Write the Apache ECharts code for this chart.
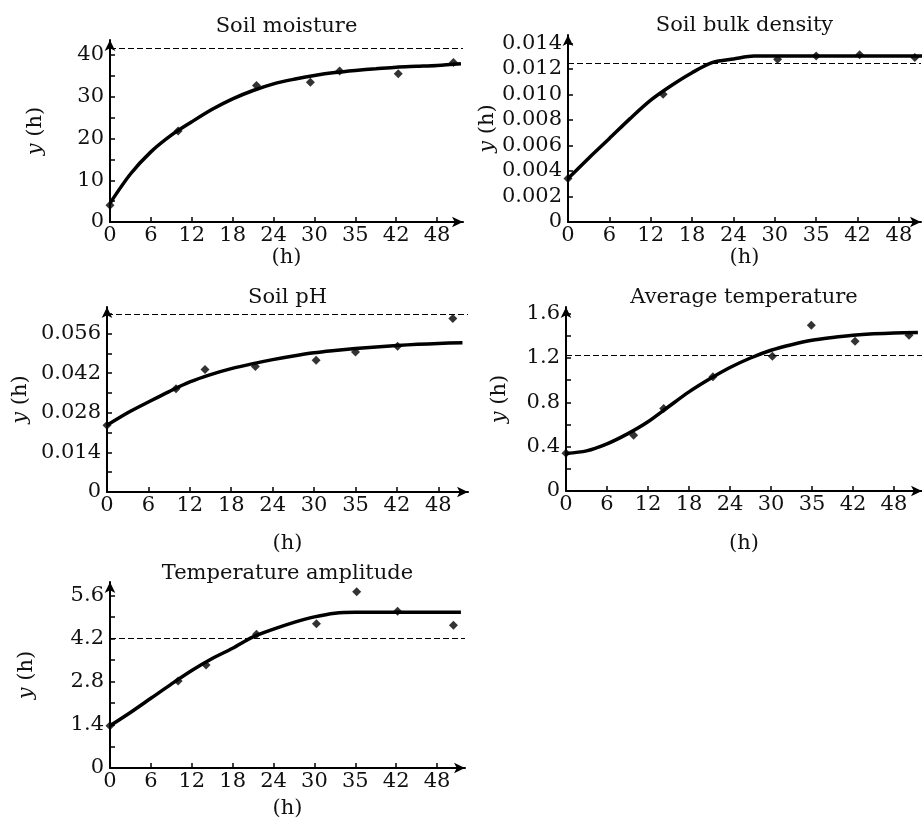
<!DOCTYPE html>
<html>
<head>
<meta charset="utf-8">
<script src="https://cdn.jsdelivr.net/npm/echarts@6/dist/echarts.min.js"></script>
<style>
  html, body { margin: 0; padding: 0; background: #fff; }
  #chart { width: 922px; height: 825px; }
</style>
</head>
<body>
<div id="chart"></div>
<script>
// x tick labels (the 36 h tick is printed as "35" in the source)
var xTickLabels = ['0', '6', '12', '18', '24', '30', '35', '42', '48']

var titles = ['Soil moisture', 'Soil bulk density', 'Soil pH', 'Average temperature', 'Temperature amplitude']

// fitted curve sample hours
var fitHours = [0, 3, 6, 9, 12, 15, 18, 21, 24, 27, 30, 33, 36, 39, 42, 45, 48, 51.5]

var moistureFit = [4.5, 11.5, 16.8, 20.8, 24, 27, 29.5, 31.5, 33.1, 34.2, 35.1, 35.8, 36.3, 36.7, 37.1, 37.3, 37.5, 37.9]
var densityFit = [0.0034, 0.0050, 0.00654, 0.0081, 0.00955, 0.0107, 0.0117, 0.0125, 0.01277, 0.0130, 0.0130, 0.0130, 0.0130, 0.0130, 0.0130, 0.0130, 0.0130, 0.0130]
var phFit = [0.0236, 0.0280, 0.0318, 0.0355, 0.0389, 0.0415, 0.0436, 0.0453, 0.0468, 0.0481, 0.0492, 0.0500, 0.0507, 0.0513, 0.0518, 0.0522, 0.0525, 0.0528]
var avgTempFit = [0.339, 0.362, 0.425, 0.515, 0.624, 0.76, 0.894, 1.01, 1.114, 1.2, 1.27, 1.32, 1.36, 1.385, 1.405, 1.418, 1.426, 1.43]
var ampFit = [1.37, 1.8, 2.26, 2.72, 3.16, 3.55, 3.88, 4.25, 4.5, 4.72, 4.9, 5.02, 5.05, 5.05, 5.05, 5.05, 5.05, 5.05]

// observed points
var moistureHours = [0, 10, 21.5, 29.4, 33.7, 42.3, 50.4]
var moistureObs = [4.0, 21.8, 32.7, 33.5, 36.2, 35.5, 38.2]
var densityHours = [0, 13.8, 30.4, 36, 42.3, 50.3]
var densityObs = [0.0034, 0.0100, 0.01275, 0.0130, 0.0131, 0.01288]
var phHours = [0, 10, 14.2, 21.5, 30.3, 36, 42.1, 50.1]
var phObs = [0.0236, 0.0365, 0.0433, 0.0444, 0.0466, 0.0495, 0.0515, 0.0613]
var avgTempHours = [0, 9.9, 14.3, 21.5, 30.2, 35.9, 42.3, 50.2]
var avgTempObs = [0.34, 0.504, 0.744, 1.03, 1.216, 1.495, 1.351, 1.405]
var ampHours = [0, 10, 14.1, 21.5, 30.3, 36.2, 42.2, 50.4]
var ampObs = [1.37, 2.82, 3.34, 4.34, 4.68, 5.71, 5.08, 4.63]

// dashed reference levels
var thresholds = [41.7, 0.0124, 0.0627, 1.225, 4.22]

// y axis tick steps
var yIntervals = [10, 0.002, 0.014, 0.4, 1.4]
var yDecimals = [0, 3, 3, 1, 1]

var chart = echarts.init(document.getElementById('chart'))
var font = 'DejaVu Serif'
var fs = 21

var panels = [
  { grid: { left: 110, top: 40, width: 353, height: 182 }, xMax: 51.8, yMax: 43.6, minor: true, yGap: 64, xGap: 20, titleTop: 16,
    fit: moistureFit, hours: moistureHours, obs: moistureObs },
  { grid: { left: 568, top: 35, width: 353, height: 187 }, xMax: 51.2, yMax: 0.01465, minor: false, yGap: 68, xGap: 19, titleTop: 15,
    fit: densityFit, hours: densityHours, obs: densityObs },
  { grid: { left: 107, top: 307, width: 361, height: 185 }, xMax: 52.3, yMax: 0.0654, minor: true, yGap: 76, xGap: 41, titleTop: 287,
    fit: phFit, hours: phHours, obs: phObs },
  { grid: { left: 566, top: 307, width: 356, height: 184 }, xMax: 52.1, yMax: 1.66, minor: true, yGap: 56, xGap: 42, titleTop: 287,
    fit: avgTempFit, hours: avgTempHours, obs: avgTempObs },
  { grid: { left: 110, top: 582, width: 355, height: 186 }, xMax: 52.1, yMax: 6.03, minor: true, yGap: 73, xGap: 30, titleTop: 563,
    fit: ampFit, hours: ampHours, obs: ampObs }
]

function pairs(xs, ys) {
  return xs.map(function (x, i) { return [x, ys[i]] })
}

var axisLine = {
  symbol: ['none', 'arrow'],
  symbolSize: [8, 11],
  lineStyle: { color: '#000', width: 2 }
}

var option = {
  backgroundColor: '#fff',
  animation: false,
  title: [],
  grid: [],
  xAxis: [],
  yAxis: [],
  series: []
}

panels.forEach(function (p, i) {
  option.grid.push(p.grid)
  option.title.push({
    text: titles[i],
    left: p.grid.left + p.grid.width / 2,
    top: p.titleTop,
    textAlign: 'center',
    padding: 0,
    textStyle: { fontFamily: font, fontSize: fs, fontWeight: 'normal', color: '#111' }
  })
  option.xAxis.push({
    type: 'value',
    gridIndex: i,
    min: 0,
    max: p.xMax,
    interval: 6,
    name: '(h)',
    nameLocation: 'middle',
    nameGap: p.xGap,
    nameTextStyle: { fontFamily: font, fontSize: fs, color: '#111' },
    axisLine: axisLine,
    axisTick: { inside: true, length: 5, lineStyle: { color: '#000', width: 1.5 } },
    splitLine: { show: false },
    axisLabel: {
      showMaxLabel: false,
      margin: 3,
      fontFamily: font,
      fontSize: fs,
      color: '#111',
      formatter: function (v) {
        var k = Math.round(v / 6)
        return Math.abs(v - k * 6) < 1e-6 ? (xTickLabels[k] || '') : ''
      }
    }
  })
  option.yAxis.push({
    type: 'value',
    gridIndex: i,
    min: 0,
    max: p.yMax,
    interval: p.minor ? yIntervals[i] / 2 : yIntervals[i],
    name: '{i|y} (h)',
    nameLocation: 'middle',
    nameGap: p.yGap,
    nameRotate: 90,
    nameTextStyle: {
      fontFamily: font, fontSize: fs, color: '#111',
      rich: { i: { fontFamily: font, fontSize: fs, fontStyle: 'italic', color: '#111' } }
    },
    axisLine: axisLine,
    axisTick: { inside: true, length: 5, lineStyle: { color: '#000', width: 1.5 } },
    splitLine: { show: false },
    axisLabel: {
      showMaxLabel: false,
      margin: 6,
      fontFamily: font,
      fontSize: fs,
      color: '#111',
      formatter: function (v) {
        var step = yIntervals[i]
        var k = Math.round(v / step)
        if (Math.abs(v - k * step) > step * 1e-4) return ''
        return k === 0 ? '0' : (k * step).toFixed(yDecimals[i])
      }
    }
  })
  option.series.push({
    type: 'line',
    xAxisIndex: i,
    yAxisIndex: i,
    data: pairs(fitHours, p.fit),
    smooth: 0.3,
    showSymbol: false,
    clip: true,
    lineStyle: { color: '#000', width: 3.5 },
    z: 3
  })
  option.series.push({
    type: 'scatter',
    xAxisIndex: i,
    yAxisIndex: i,
    data: pairs(p.hours, p.obs),
    symbol: 'diamond',
    symbolSize: 9,
    itemStyle: { color: '#000' },
    z: 4,
    markLine: {
      silent: true,
      precision: 6,
      symbol: ['none', 'none'],
      label: { show: false },
      lineStyle: { color: '#000', type: [6, 3], width: 1.2 },
      data: [{ yAxis: thresholds[i] }]
    }
  })
})

chart.setOption(option)
</script>
</body>
</html>
